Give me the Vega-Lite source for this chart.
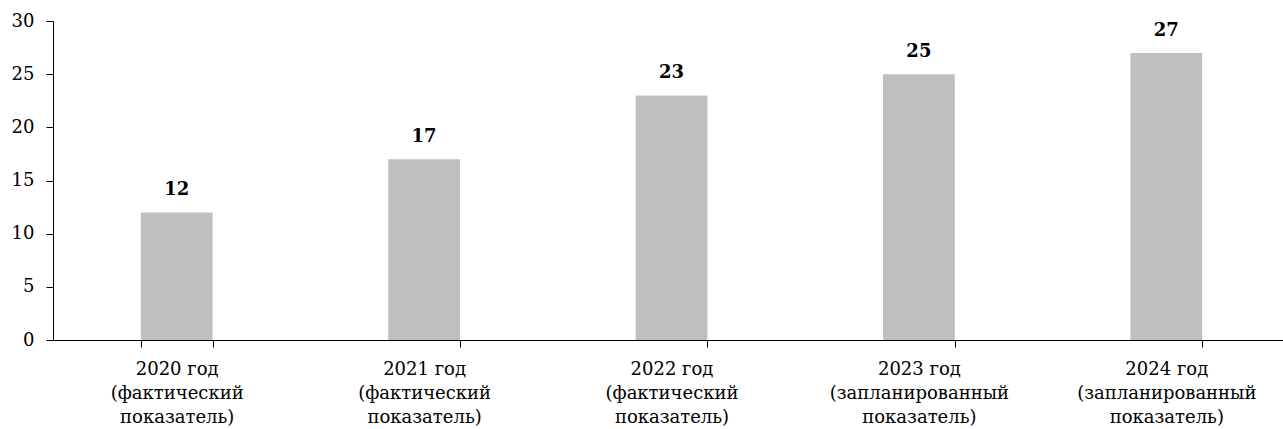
{
  "$schema": "https://vega.github.io/schema/vega-lite/v6.json",
  "autosize": {"type": "none"},
  "padding": {"left": 53, "top": 21, "right": 0, "bottom": 89},
  "width": 1237,
  "height": 319,
  "background": "white",
  "config": {"view": {"stroke": null}, "font": "DejaVu Serif"},
  "data": {
    "values": [
      {"period": "2020 год|(фактический|показатель)", "value": 12},
      {"period": "2021 год|(фактический|показатель)", "value": 17},
      {"period": "2022 год|(фактический|показатель)", "value": 23},
      {"period": "2023 год|(запланированный|показатель)", "value": 25},
      {"period": "2024 год|(запланированный|показатель)", "value": 27}
    ]
  },
  "encoding": {
    "x": {
      "field": "period", "type": "nominal", "sort": null,
      "scale": {"paddingInner": 0.71, "paddingOuter": 0.355},
      "axis": {
        "title": null, "labelAngle": 0, "tickBand": "extent",
        "labelExpr": "split(datum.label, '|')",
        "labelFont": "DejaVu Serif", "labelFontSize": 18, "labelColor": "#000",
        "labelLineHeight": 24, "labelPadding": 13, "labelLimit": 300,
        "domainColor": "#000", "tickColor": "#000", "tickSize": 7, "domainWidth": 1, "tickWidth": 1
      }
    },
    "y": {
      "field": "value", "type": "quantitative",
      "scale": {"domain": [0, 30]},
      "axis": {
        "title": null, "values": [0, 5, 10, 15, 20, 25, 30], "grid": false,
        "labelFont": "DejaVu Serif", "labelFontSize": 18, "labelColor": "#000",
        "labelPadding": 12, "domainColor": "#000", "tickColor": "#000", "tickSize": 7
      }
    }
  },
  "layer": [
    {"mark": {"type": "bar", "color": "#bfbfbf"}},
    {
      "mark": {"type": "text", "font": "DejaVu Serif", "fontSize": 18, "fontWeight": "bold", "color": "#000", "baseline": "alphabetic", "dy": -17},
      "encoding": {"text": {"field": "value", "type": "quantitative"}}
    }
  ]
}
